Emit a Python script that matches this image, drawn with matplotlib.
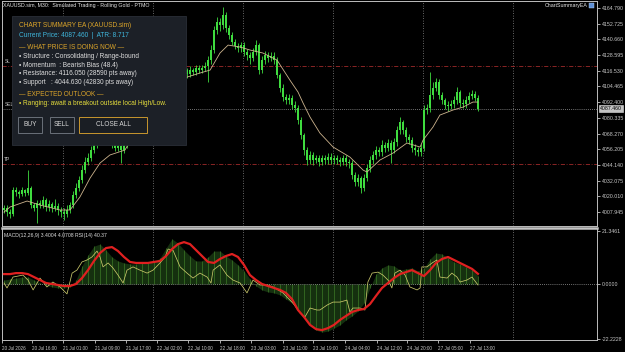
import numpy as np
import matplotlib
matplotlib.use('Agg')
import matplotlib.pyplot as plt
import matplotlib.transforms as mtransforms
from matplotlib.patches import Rectangle

plt.rcParams['font.family'] = ['Liberation Sans', 'DejaVu Sans']

# ---- price data (one candle per slot) ----
closes = [
    4011.0, 4007.9, 4006.4, 4024.8, 4023.3, 4021.8, 4024.8, 4022.5, 4026.4, 4013.3,
    4011.0, 4014.8, 4013.3, 4017.1, 4011.8, 4014.1, 4011.0, 4012.6, 4009.5, 4007.9,
    4006.4, 4009.5, 4013.3, 4021.0, 4026.4, 4032.5, 4040.2, 4046.4, 4049.4, 4055.6,
    4059.6, 4063.3, 4067.1, 4069.4, 4070.9, 4067.1, 4059.6, 4057.3, 4058.7, 4055.6,
    4059.6, 4063.3, 4070.9, 4078.7, 4086.4, 4094.0, 4101.7, 4105.6, 4109.4, 4113.3,
    4115.6, 4117.1, 4114.8, 4117.1, 4118.6, 4115.6, 4117.1, 4120.2, 4117.1, 4115.6,
    4117.1, 4114.0, 4117.1, 4115.6, 4118.6, 4117.1, 4118.6, 4120.2, 4124.8, 4132.5,
    4147.9, 4154.0, 4151.7, 4159.4, 4149.4, 4144.0, 4138.6, 4135.6, 4134.0, 4136.3,
    4131.0, 4128.6, 4126.3, 4131.0, 4136.3, 4117.1, 4124.8, 4128.6, 4126.3, 4127.9,
    4124.8, 4113.3, 4103.3, 4096.4, 4094.0, 4095.6, 4090.2, 4087.9, 4078.7, 4067.1,
    4055.6, 4047.9, 4051.8, 4047.9, 4049.4, 4046.4, 4049.4, 4047.9, 4050.2, 4047.9,
    4049.4, 4047.9, 4046.4, 4049.4, 4046.4, 4045.6, 4036.4, 4031.0, 4034.1, 4026.4,
    4034.1, 4041.8, 4047.9, 4051.8, 4055.6, 4054.1, 4059.6, 4057.3, 4061.0, 4055.6,
    4061.7, 4070.9, 4077.1, 4070.9, 4065.6, 4063.3, 4057.3, 4055.6, 4054.1, 4057.3,
    4086.4, 4087.9, 4097.9, 4103.3, 4107.9, 4097.9, 4094.0, 4090.2, 4089.4, 4091.0,
    4094.0, 4100.2, 4091.7, 4091.0, 4094.0, 4097.1, 4098.7, 4095.6, 4087.5,
]
highs = [
    4013, 4013, 4010, 4027, 4027, 4025, 4027, 4026, 4040, 4028,
    4015, 4017, 4017, 4020, 4019, 4017, 4016, 4018, 4015, 4012,
    4011, 4013, 4016, 4024, 4030, 4036, 4044, 4050, 4053, 4059,
    4063, 4067, 4070, 4073, 4074, 4073, 4069, 4062, 4061, 4061,
    4062, 4066, 4074, 4082, 4090, 4097, 4105, 4109, 4113, 4116,
    4119, 4120, 4119, 4120, 4122, 4121, 4120, 4123, 4122, 4119,
    4120, 4119, 4120, 4119, 4121, 4121, 4121, 4123, 4128, 4136,
    4151, 4158, 4157, 4165.6, 4162, 4152, 4146, 4141, 4138, 4139,
    4139, 4133, 4131, 4134, 4140.2, 4138, 4128, 4132, 4131, 4131,
    4131, 4127, 4115, 4106, 4099, 4099, 4098, 4093, 4090, 4081,
    4069, 4058, 4055, 4054, 4052, 4052, 4052, 4052, 4053, 4053,
    4052, 4052, 4050, 4052, 4052, 4049, 4048, 4039, 4037, 4036,
    4037, 4045, 4051, 4055, 4059, 4058, 4063, 4062, 4064, 4063,
    4065, 4074, 4081, 4079, 4073, 4068, 4066, 4060, 4058, 4060,
    4090, 4091, 4115.6, 4108, 4111, 4110, 4100, 4096, 4093, 4094,
    4097, 4104, 4102, 4095, 4097, 4100, 4102, 4101, 4098,
]
lows = [
    4007, 4005, 4003, 4005, 4020, 4019, 4020, 4020, 4021, 4011,
    4009, 3999.5, 4011, 4011, 4009, 4009, 4008, 4009, 4006, 4004,
    4002, 4004, 4007, 4011, 4019, 4024, 4030, 4038, 4044, 4047,
    4053, 4057, 4061, 4065, 4067, 4064, 4057, 4055, 4055, 4046,
    4053, 4057, 4061, 4069, 4076, 4084, 4092, 4099, 4103, 4107,
    4111, 4113, 4112, 4112, 4115, 4113, 4113, 4115, 4114, 4113,
    4113, 4111, 4112, 4113, 4113, 4115, 4115, 4116, 4108, 4122,
    4130, 4145, 4147, 4149, 4146, 4141, 4136, 4133, 4131, 4131,
    4128, 4125, 4122, 4124, 4129, 4114, 4115, 4122, 4123, 4124,
    4122, 4111, 4100, 4093, 4091, 4091, 4087, 4085, 4076, 4064,
    4052, 4044, 4045, 4044, 4046, 4043, 4044, 4045, 4045, 4045,
    4045, 4045, 4043, 4044, 4043, 4042, 4033, 4028, 4028, 4022.5,
    4024, 4032, 4039, 4045, 4049, 4051, 4051, 4054, 4055, 4045.6,
    4053, 4059, 4068, 4068, 4062, 4060, 4054, 4052, 4051, 4051,
    4055, 4083, 4085, 4095, 4101, 4095, 4091, 4087, 4086, 4087,
    4088, 4091, 4089, 4088, 4088, 4092, 4095, 4093, 4086,
]
first_open = 4009.5

# moving average line (bar index, price)
ma_points = [
    (0, 4007.9), (2, 4011.8), (7.7, 4016.4), (12, 4013.3), (18.7, 4009.5), (22, 4009.5),
    (25.3, 4019.5), (28.7, 4034.1), (32, 4045.6), (35.3, 4051.8), (40.3, 4055.6),
    (45.3, 4074.8), (50.3, 4094.0), (55.3, 4105.6), (61, 4111.7), (65.3, 4114.8),
    (68.7, 4117.1), (72, 4130.2), (74.7, 4136.3), (78.7, 4134.8), (82, 4132.5),
    (86.3, 4130.2), (91, 4124.8), (95.3, 4109.4), (98, 4100.2), (99.7, 4091.7),
    (102, 4081.0), (105.3, 4068.7), (109.7, 4057.9), (115.3, 4050.2), (119.7, 4040.2),
    (121, 4038.7), (125.3, 4047.9), (129.7, 4053.3), (134.3, 4061.0), (136.3, 4059.6),
    (138.7, 4057.9), (139.7, 4063.3), (143, 4073.3), (145.3, 4082.5), (149.7, 4086.4),
    (153, 4088.6), (156.3, 4092.5), (158, 4092.5),
]

sl_price = 4120.0
tp_price = 4044.63
bid_price = 4087.46

price_ticks = [4164.790, 4152.725, 4140.660, 4128.595, 4116.530, 4104.465, 4092.400,
               4080.335, 4068.270, 4056.205, 4044.140, 4032.075, 4020.010, 4007.945]
price_tick_labels = ['4164.790', '4152.725', '4140.660', '4128.595', '4116.530', '4104.465',
                     '4092.400', '4080.335', '4068.270', '4056.205', '4044.140', '4032.075',
                     '4020.010', '4007.945']

# ---- indicator window (every second slot) ----
macd_main = [
    1.6, 2.0, 2.4, 2.8, 2.8, 1.6, 0.4, -0.4, -1.2, -1.6,
    -1.6, -1.2, 1.6, 7.3, 11.7, 15.3, 16.1, 13.7, 10.9, 9.3,
    8.5, 8.1, 8.1, 8.5, 8.5, 8.9, 10.5, 14.5, 18.2, 16.5,
    13.7, 11.3, 9.3, 9.3, 10.9, 13.3, 13.3, 11.3, 9.7, 7.7,
    5.2, 2.0, -0.8, -2.4, -3.2, -3.6, -4.4, -6.1, -7.7, -10.1,
    -13.3, -16.5, -18.6, -19.4, -19.0, -17.8, -16.5, -14.5, -12.9, -10.9,
    -7.7, -1.6, 4.0, 6.5, 7.7, 7.3, 5.6, 6.1, 6.5, 5.2,
    6.5, 10.1, 12.5, 12.1, 10.5, 8.9, 8.1, 6.9, 5.6, 3.4,
]
macd_signal = [
    4.0, 4.0, 4.4, 4.4, 4.0, 2.8, 1.6, 0.4, 0.0, -0.4,
    -0.8, -0.8, 0.0, 2.4, 5.6, 9.3, 12.5, 14.5, 14.9, 13.3,
    10.9, 8.9, 8.5, 8.5, 8.5, 8.9, 9.3, 11.3, 14.1, 16.1,
    16.9, 16.1, 13.7, 11.3, 8.9, 8.5, 10.1, 11.3, 12.1, 10.9,
    7.7, 3.6, 1.6, 0.0, -0.8, -1.6, -2.4, -3.6, -6.1, -10.5,
    -13.3, -16.5, -18.2, -18.6, -17.8, -16.5, -14.5, -12.9, -11.3, -10.5,
    -10.1, -8.1, -4.8, -1.6, 0.4, 2.4, 4.0, 4.8, 5.6, 4.4,
    3.2, 5.6, 8.5, 10.1, 10.9, 9.7, 8.5, 7.3, 6.1, 4.1,
]
rsi_points = [
    (0, 0.4), (1.0, -1.6), (3.0, 2.8), (6.3, 3.6), (8.0, 1.6), (9.7, -2.4), (12.0, 2.4),
    (14.3, -1.2), (16.3, 0.8), (18.7, -1.2), (21.0, -4.0), (22.7, 4.4), (24.3, 5.6),
    (26.0, 8.9), (27.7, 9.7), (29.3, 10.9), (31.0, 13.3), (32.0, 10.9), (33.0, 6.9),
    (34.7, 8.5), (36.3, 6.5), (38.0, 3.6), (39.7, 0.4), (41.0, 5.6), (43.0, 6.9),
    (45.3, 5.6), (47.7, 4.4), (49.7, 5.6), (52.0, 8.5), (53.7, 10.9), (54.7, 14.1),
    (56.3, 13.7), (58.7, 6.9), (61.0, 4.4), (63.0, 2.4), (65.3, 4.4), (67.7, 2.8),
    (69.0, 0.4), (69.7, 5.6), (72.0, 7.7), (74.3, 3.6), (76.3, 1.6), (78.7, 0.4),
    (81.0, -3.6), (83.0, 1.6), (85.3, -0.4), (87.7, -0.4), (89.7, -1.2), (93.0, -3.6),
    (96.3, -7.7), (98.7, -11.7), (100.3, -13.3), (102.0, -9.7), (104.3, -10.5),
    (105.3, -10.5), (107.7, -8.5), (109.7, -7.3), (112.0, -7.3), (114.3, -6.5),
    (115.3, -11.3), (116.3, -9.7), (118.7, -9.7), (120.3, -10.5), (121.3, 0.8),
    (122.7, 4.4), (124.7, 4.8), (126.3, 3.6), (128.0, 1.6), (129.3, -1.6), (130.3, 4.4),
    (132.0, 5.6), (133.7, 3.6), (135.3, -1.2), (137.7, -2.4), (138.7, -1.6), (139.3, 6.9),
    (141.0, 6.9), (142.7, 8.5), (144.3, 9.7), (145.3, 2.8), (147.7, 2.4), (149.3, 4.4),
    (151.0, 2.8), (152.0, 0.8), (154.3, 1.6), (156.0, 2.8), (158.0, -0.4),
]
ind_ticks = [21.3461, 0.0, -22.2228]
ind_tick_labels = ['21.3461', '0.0000', '-22.2228']

time_tick_idx = [-0.67, 9.33, 19.67, 30.33, 40.67, 51.0, 61.33, 72.0, 82.33, 93.0,
                 103.0, 113.67, 124.33, 134.33, 144.67, 155.33]
time_labels = ['20 Jul 2026', '20 Jul 16:00', '21 Jul 01:00', '21 Jul 09:00', '21 Jul 17:00',
               '22 Jul 02:00', '22 Jul 10:00', '22 Jul 18:00', '23 Jul 03:00', '23 Jul 11:00',
               '23 Jul 19:00', '24 Jul 04:00', '24 Jul 12:00', '24 Jul 20:00', '27 Jul 05:00',
               '27 Jul 13:00']
grid_idx = [19.67, 49.67, 79.67, 109.67, 139.67, 169.67]

# ---- layout helpers (pixel rectangles in a 625x352 canvas) ----
W, H = 625, 352


def px_rect(x0, y0, x1, y1):
    return [x0 / W, 1 - y1 / H, (x1 - x0) / W, (y1 - y0) / H]


fig = plt.figure(figsize=(6.25, 3.52), dpi=100, facecolor='black')
ax = fig.add_axes(px_rect(2, 1, 597, 226))
ax2 = fig.add_axes(px_rect(2, 228, 597, 340))

frame_col = '#bdbdbd'
label_col = '#c8c8c8'
green = '#3fdc3f'

for a in (ax, ax2):
    a.set_facecolor('black')
    a.set_xlim(-0.67, 197.67)
    for s in a.spines.values():
        s.set_color(frame_col)
        s.set_linewidth(0.7)
    for g in grid_idx:
        a.axvline(g, color='#8a8a8a', lw=0.6, ls=(0, (1, 2)), zorder=1)

# candles
idx = np.arange(len(closes))
opens = np.r_[first_open, closes[:-1]]
c = np.array(closes)
body_low = np.minimum(opens, c)
body_h = np.maximum(np.abs(c - opens), 0.5)
ax.vlines(idx, lows, highs, color=green, lw=0.6, zorder=3)
ax.bar(idx, body_h, bottom=body_low, width=0.75, color=green, lw=0, zorder=3)

ma_x, ma_y = zip(*ma_points)
ax.plot(ma_x, ma_y, color='#cdb48e', lw=0.6, zorder=4)

# price levels
ax.axhline(sl_price, color='#a02a2a', lw=0.6, ls=(0, (5, 2, 1, 2)), zorder=2)
ax.axhline(tp_price, color='#a02a2a', lw=0.6, ls=(0, (5, 2, 1, 2)), zorder=2)
ax.axhline(bid_price, color='#9a9a9a', lw=0.6, ls=(0, (1, 1.5)), zorder=2)
blend = mtransforms.blended_transform_factory(ax.transAxes, ax.transData)
ax.text(0.004, sl_price + 1.5, 'SL', transform=blend, color=label_col, fontsize=3.5, va='bottom')
ax.text(0.004, bid_price + 1.5, 'SELL', transform=blend, color=label_col, fontsize=3.5, va='bottom')
ax.text(0.004, tp_price + 1.5, 'TP', transform=blend, color=label_col, fontsize=3.5, va='bottom')

ax.set_ylim(3997.2, 4170.2)
ax.yaxis.tick_right()
ax.set_yticks(price_ticks)
ax.set_yticklabels(price_tick_labels)
ax.set_xticks([])
ax.tick_params(axis='y', colors=label_col, labelsize=3.8, length=2.5, width=0.6, pad=1)
ax.annotate('4087.460', xy=(1.0, bid_price), xycoords=blend, xytext=(2.3, 0),
            textcoords='offset points', fontsize=3.8, color='black', va='center', ha='left',
            bbox=dict(boxstyle='square,pad=0.15', fc='#c4c4c4', ec='#e0e0e0', lw=0.4),
            zorder=6, annotation_clip=False)

# indicator window
mx = np.arange(0, len(closes), 2)
ax2.fill_between(mx, 0, macd_main, color='#15300f', lw=0, zorder=2)
ax2.vlines(mx, 0, macd_main, color='#3c7a26', lw=0.5, zorder=2)
ax2.axhline(0, color='#9a9a9a', lw=0.6, ls=(0, (1, 1.5)), zorder=2)
rx, ry = zip(*rsi_points)
ax2.plot(rx, ry, color='#c9c86a', lw=0.55, zorder=3)
ax2.plot(mx, macd_signal, color='#e02020', lw=1.6, zorder=4)
ax2.set_ylim(-22.6, 22.6)
ax2.yaxis.tick_right()
ax2.set_yticks(ind_ticks)
ax2.set_yticklabels(ind_tick_labels)
ax2.set_xticks(time_tick_idx)
ax2.set_xticklabels(time_labels, ha='left')
ax2.tick_params(axis='y', colors=label_col, labelsize=3.8, length=2.5, width=0.6, pad=1)
ax2.tick_params(axis='x', colors=label_col, labelsize=3.3, length=2.5, width=0.6, pad=1.5)
ax2.spines['top'].set_linewidth(1.8)
ax2.spines['top'].set_color('#c4c4c4')
ax2.text(0.003, 0.955, 'MACD(12,26,9) 3.4004 4.0708 RSI(14) 40.37', transform=ax2.transAxes,
         color='#dcdcdc', fontsize=3.7, va='top')

# ---- overlay: header texts and the EA panel (pixel coordinates) ----
ov = fig.add_axes([0, 0, 1, 1], zorder=10)
ov.set_xlim(0, W)
ov.set_ylim(H, 0)
ov.axis('off')
ov.patch.set_alpha(0)

ov.text(3, 5, 'XAUUSD.sim, M30:  Simulated Trading - Rolling Gold - PTMO', color='#e6e6e6',
        fontsize=3.8, va='center')
ov.text(588, 6, 'ChartSummaryEA', color='#e6e6e6', fontsize=3.8, va='center', ha='right')
ov.add_patch(Rectangle((589, 3), 5, 5, fc='#5d8fd6', ec='#b8d0f0', lw=0.3))

ov.add_patch(Rectangle((12, 16), 174, 129, fc='#1c2027', ec='#2a2f37', lw=0.6))
fs = 4.7
gold = '#dca52a'
ov.text(19, 25.5, 'CHART SUMMARY EA (XAUUSD.sim)', color=gold, fontsize=fs, va='center')
ov.text(19, 35.3, 'Current Price: 4087.460  |  ATR: 8.717', color='#3fb6dc', fontsize=fs, va='center')
ov.text(19, 47.5, '— WHAT PRICE IS DOING NOW —', color=gold, fontsize=fs, va='center')
bullets = ['• Structure : Consolidating / Range-bound',
           '• Momentum  : Bearish Bias (48.4)',
           '• Resistance: 4116.050 (28590 pts away)',
           '• Support   : 4044.630 (42830 pts away)']
for i, line in enumerate(bullets):
    ov.text(19, 56.7 + i * 8.6, line, color='#dedede', fontsize=fs, va='center')
ov.text(19, 94.5, '— EXPECTED OUTLOOK —', color=gold, fontsize=fs, va='center')
ov.text(19, 103.5, '• Ranging: await a breakout outside local High/Low.', color='#e4dc3c',
        fontsize=fs, va='center')

buttons = [('BUY', 18, 42, '#6a7079'), ('SELL', 50, 74, '#6a7079'), ('CLOSE ALL', 79, 147, '#c8962e')]
for name, x0, x1, ec in buttons:
    ov.add_patch(Rectangle((x0, 117), x1 - x0, 16, fc='#1a1e24', ec=ec, lw=0.7))
    ov.text((x0 + x1) / 2, 125, name, color='#d6d6d6', fontsize=fs, ha='center', va='center')

fig.savefig('out.png', dpi=100, facecolor='black')
